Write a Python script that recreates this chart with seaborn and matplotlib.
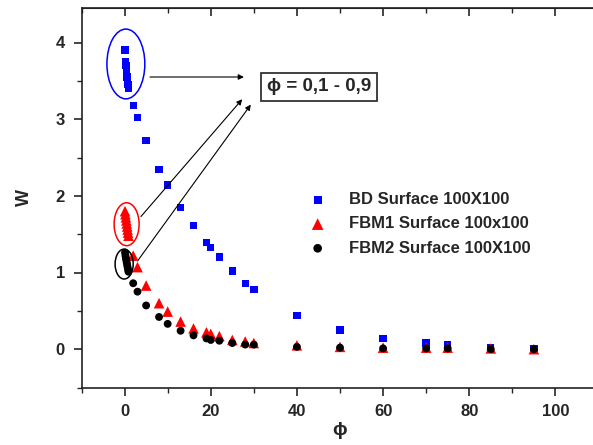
import numpy as np
import pandas as pd
import matplotlib
matplotlib.use("Agg")
import matplotlib.pyplot as plt
from matplotlib.patches import Ellipse
import seaborn as sns

# phi values: cluster 0.1-0.9 then the larger ones
phi_small = [0.1, 0.2, 0.3, 0.4, 0.5, 0.6, 0.7, 0.8, 0.9]
phi_big = [2, 3, 5, 8, 10, 13, 16, 19, 20, 22, 25, 28, 30, 40, 50, 60, 70, 75, 85, 95]

w_bd = [3.90, 3.75, 3.70, 3.65, 3.60, 3.55, 3.50, 3.45, 3.40,
        3.18, 3.02, 2.72, 2.34, 2.14, 1.85, 1.61, 1.39, 1.33, 1.20,
        1.02, 0.86, 0.78, 0.44, 0.25, 0.14, 0.08, 0.06, 0.02, 0.01]
w_fbm1 = [1.80, 1.76, 1.72, 1.68, 1.64, 1.60, 1.56, 1.52, 1.48,
          1.22, 1.07, 0.83, 0.60, 0.49, 0.36, 0.27, 0.22, 0.20, 0.17,
          0.12, 0.10, 0.08, 0.05, 0.03, 0.02, 0.02, 0.02, 0.01, 0.0]
w_fbm2 = [1.26, 1.22, 1.19, 1.16, 1.13, 1.10, 1.07, 1.04, 1.01,
          0.86, 0.75, 0.57, 0.42, 0.33, 0.24, 0.18, 0.14, 0.12, 0.11,
          0.08, 0.06, 0.06, 0.03, 0.02, 0.01, 0.01, 0.01, 0.0, 0.0]

labels = ["BD Surface 100X100", "FBM1 Surface 100x100", "FBM2 Surface 100X100"]

sns.set_style("ticks")
plt.rcParams['font.family'] = ['Liberation Sans', 'DejaVu Sans']
plt.rcParams['font.weight'] = 'bold'

phi = phi_small + phi_big
df = pd.DataFrame({"phi": phi * 3,
                   "W": w_bd + w_fbm1 + w_fbm2,
                   "serie": [labels[0]] * len(phi) + [labels[1]] * len(phi) + [labels[2]] * len(phi)})

fig = plt.figure(figsize=(5.93, 4.45), dpi=100)
ax = fig.add_axes([81.5 / 593, 1 - 387.5 / 445, (598.5 - 81.5) / 593, (387.5 - 8) / 445])

sns.scatterplot(data=df[df.serie == labels[0]], x="phi", y="W", marker="s", color="#0000ff",
                s=28, edgecolor="none", ax=ax, label=labels[0], zorder=3)
sns.scatterplot(data=df[df.serie == labels[1]], x="phi", y="W", marker="^", color="#ff0000",
                s=58, edgecolor="none", ax=ax, label=labels[1], zorder=4)
sns.scatterplot(data=df[df.serie == labels[2]], x="phi", y="W", marker="o", color="black",
                s=32, edgecolor="none", ax=ax, label=labels[2], zorder=5)

ax.set_xlim(-10, 110)
ax.set_ylim(-0.45, 4.45)
ax.set_xticks([0, 20, 40, 60, 80, 100])
ax.set_xticks([-10, 10, 30, 50, 70, 90], minor=True)
ax.set_yticks([0, 1, 2, 3, 4])
ax.set_yticks([-0.5, 0.5, 1.5, 2.5, 3.5], minor=True)
ax.tick_params(axis="both", which="major", direction="out", length=6, width=1.2,
               labelsize=12, pad=6)
ax.tick_params(axis="both", which="minor", direction="out", length=3.5, width=1.0)
for lab in ax.get_xticklabels() + ax.get_yticklabels():
    lab.set_fontweight("bold")
for sp in ax.spines.values():
    sp.set_linewidth(1.2)
    sp.set_color("#222222")
ax.spines["right"].set_visible(False)

top = ax.secondary_xaxis("top")
top.set_xticks([0, 20, 40, 60, 80, 100])
top.set_xticks([-10, 10, 30, 50, 70, 90], minor=True)
top.tick_params(which="major", direction="in", length=6, width=1.2, labeltop=False)
top.tick_params(which="minor", direction="in", length=3.5, width=1.0)

ax.set_xlabel("\u03d5", fontsize=14, fontweight="bold", labelpad=2)
ax.set_ylabel("W", fontsize=13, fontweight="bold", labelpad=16)

# ellipses around the phi = 0.1 - 0.9 clusters
ax.add_patch(Ellipse((0.3, 3.72), 8.8, 0.91, fill=False, edgecolor="#0000ff", lw=1.1, zorder=6))
ax.add_patch(Ellipse((0.47, 1.63), 5.8, 0.56, fill=False, edgecolor="#ff0000", lw=1.1, zorder=6))
ax.add_patch(Ellipse((-0.1, 1.11), 4.2, 0.39, fill=False, edgecolor="black", lw=1.1, zorder=6))

arrow = dict(arrowstyle="-|>", color="black", lw=0.8, mutation_scale=8, shrinkA=0, shrinkB=0)
ax.annotate("", xy=(27.7, 3.55), xytext=(5.9, 3.55), arrowprops=arrow)
ax.annotate("", xy=(27.3, 3.26), xytext=(3.8, 1.73), arrowprops=arrow)
ax.annotate("", xy=(29.3, 3.19), xytext=(3.0, 1.15), arrowprops=arrow)

ax.text(33.0, 3.42, "\u03d5 = 0,1 - 0,9", fontsize=13.5, fontweight="bold", va="center", ha="left",
        bbox=dict(boxstyle="square,pad=0.3", facecolor="white", edgecolor="#333333", lw=1.3))

ax.legend(loc="center left", bbox_to_anchor=(286 / 593, 1 - 224 / 445), bbox_transform=fig.transFigure,
          frameon=False, handletextpad=0.9, labelspacing=0.55, markerscale=1.1,
          prop={"weight": "bold", "size": 12})

fig.savefig("out.png", dpi=100)
